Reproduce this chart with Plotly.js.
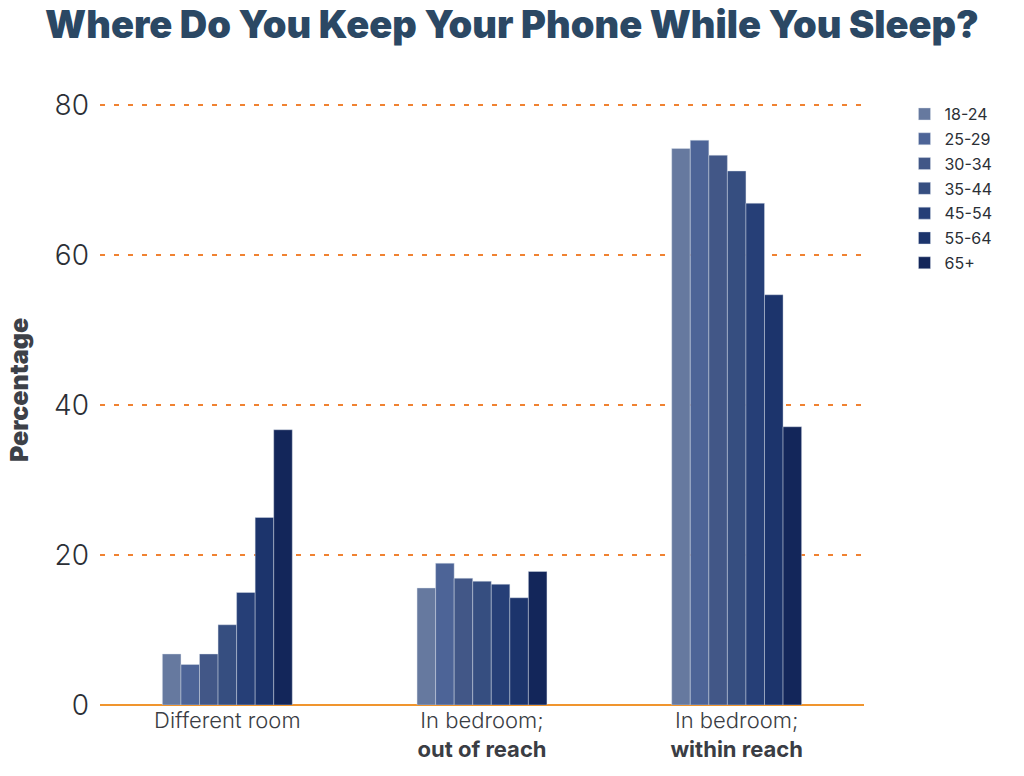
<!DOCTYPE html>
<html>
<head>
<meta charset="utf-8">
<script src="https://cdn.plot.ly/plotly-3.0.1.min.js"></script>
<style>
  html, body { margin: 0; padding: 0; background: #ffffff; }
  #chart { width: 1024px; height: 776px; }
</style>
</head>
<body>
<div id="chart"></div>
<script>
// where people keep their phone overnight, % by age group
const categories = ["Different room", "In bedroom;<br><b>out of reach</b>", "In bedroom;<br><b>within reach</b>"];
const ageGroups = ["18-24", "25-29", "30-34", "35-44", "45-54", "55-64", "65+"];

const age18to24 = [6.8, 15.6, 74.2];
const age25to29 = [5.4, 18.9, 75.3];
const age30to34 = [6.8, 16.9, 73.3];
const age35to44 = [10.7, 16.5, 71.2];
const age45to54 = [15.0, 16.1, 66.9];
const age55to64 = [25.0, 14.3, 54.7];
const age65plus = [36.7, 17.8, 37.1];

const barColors = ["#66799f", "#4d6497", "#425787", "#364e80", "#263f77", "#1c346c", "#13265a"];

const seriesValues = [age18to24, age25to29, age30to34, age35to44, age45to54, age55to64, age65plus];

const traces = seriesValues.map((vals, i) => ({
  type: "bar",
  name: ageGroups[i],
  x: categories,
  y: vals,
  legendgroup: "g" + i,
  marker: {
    color: barColors[i],
    line: { color: "rgba(220,226,236,0.7)", width: 0.6 },
  },
  hovertemplate: ageGroups[i] + ": %{y}%<extra></extra>",
}));

const layout = {
  width: 1024,
  height: 776,
  margin: { t: 75, r: 160, b: 71, l: 100 },
  paper_bgcolor: "#ffffff",
  plot_bgcolor: "#ffffff",
  font: { family: "Inter, 'Open Sans', sans-serif", color: "#2b2f36" },
  title: {
    text: "Where Do You Keep Your Phone While You Sleep?",
    font: { family: "Inter, 'Open Sans', sans-serif", size: 38, weight: 900, color: "#2b4864" },
    x: 0.5,
    xref: "container",
    xanchor: "center",
    y: 0.968,
    yref: "container",
    yanchor: "middle",
  },
  barmode: "group",
  bargap: 0.49,
  bargroupgap: 0,
  xaxis: {
    type: "category",
    showgrid: false,
    zeroline: false,
    showline: false,
    ticks: "",
    tickfont: { size: 22, weight: 300, color: "#3a3d44" },
  },
  yaxis: {
    range: [0, 84],
    tickvals: [0, 20, 40, 60, 80],
    showgrid: true,
    gridcolor: "rgb(240,130,50)",
    griddash: "5px,9px",
    gridwidth: 1.5,
    zeroline: true,
    zerolinecolor: "#f0952e",
    zerolinewidth: 2,
    showline: false,
    ticks: "",
    ticklabelstandoff: 10,
    tickfont: { size: 28, weight: 300, color: "#2b2f36" },
    title: {
      text: "Percentage",
      font: { size: 25, weight: 900, color: "#3d4148" },
      standoff: 18,
    },
  },
  legend: {
    x: 1.053,
    y: 0.965,
    xanchor: "left",
    yanchor: "top",
    traceorder: "grouped",
    tracegroupgap: 1,
    font: { size: 16, color: "#2b2f36" },
    bgcolor: "rgba(0,0,0,0)",
  },
  showlegend: true,
};

Plotly.newPlot("chart", traces, layout, { displayModeBar: false, responsive: false });
</script>
</body>
</html>
